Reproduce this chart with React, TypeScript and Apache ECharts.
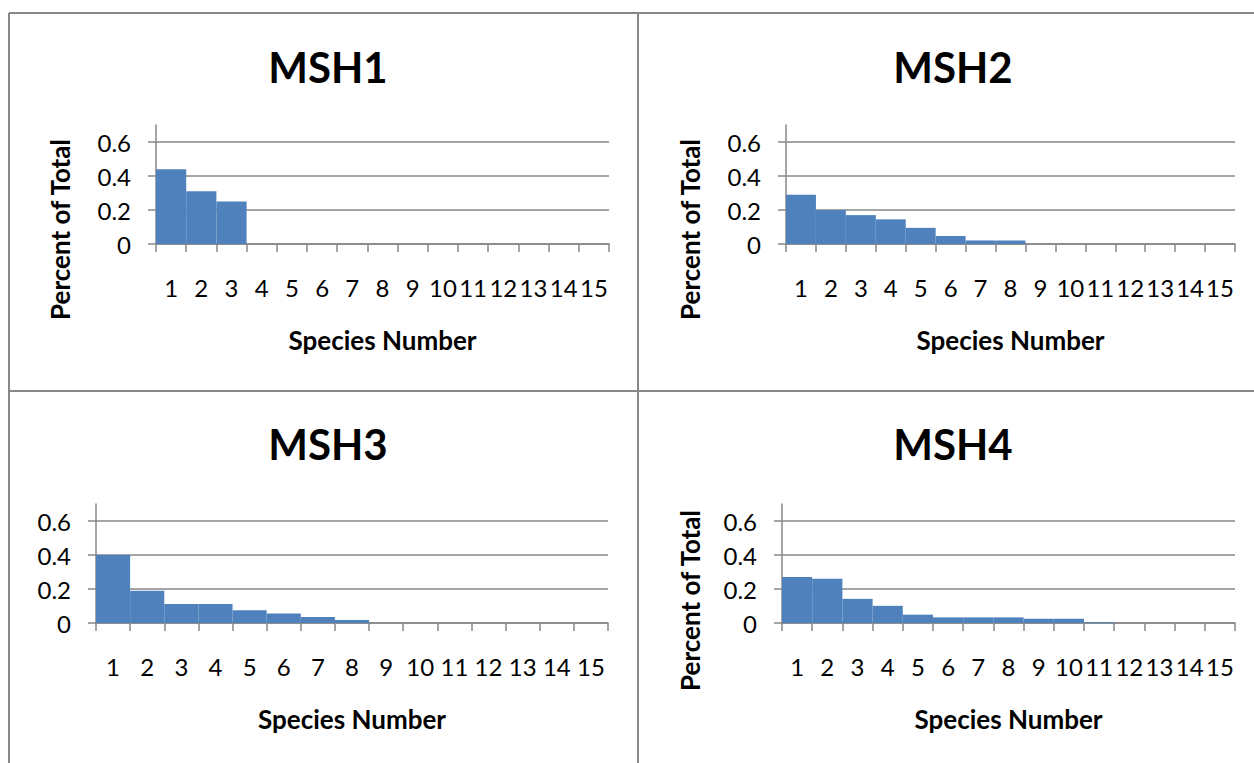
import React, { useEffect, useRef } from "react";
import * as echarts from "echarts";

const categories = ["1", "2", "3", "4", "5", "6", "7", "8", "9", "10", "11", "12", "13", "14", "15"];
const msh1 = [0.44, 0.31, 0.25, 0, 0, 0, 0, 0, 0, 0, 0, 0, 0, 0, 0];
const msh2 = [0.29, 0.2, 0.17, 0.145, 0.095, 0.047, 0.021, 0.02, 0, 0, 0, 0, 0, 0, 0];
const msh3 = [0.4, 0.19, 0.112, 0.112, 0.075, 0.056, 0.035, 0.017, 0, 0, 0, 0, 0, 0, 0];
const msh4 = [0.27, 0.26, 0.142, 0.101, 0.049, 0.033, 0.033, 0.033, 0.025, 0.025, 0.005, 0, 0, 0, 0];
const titles = ["MSH1", "MSH2", "MSH3", "MSH4"];
const yTicks = [0, 0.2, 0.4, 0.6];
const yAxisTitle = "Percent of Total";
const xAxisTitle = "Species Number";

const FONT = "Lato, 'Liberation Sans', sans-serif";
const GRAY = "#878787";
const BAR = "#4F81BD";

export default function App() {
  const ref = useRef<HTMLDivElement>(null);
  useEffect(() => {
    if (!ref.current) return;
    const chart = echarts.init(ref.current, null, { renderer: "svg" });
    const datasets = [msh1, msh2, msh3, msh4];
    const grids = [
      { left: 156, top: 125, width: 453, height: 119 },
      { left: 786, top: 125, width: 449, height: 119 },
      { left: 96, top: 504, width: 512, height: 119 },
      { left: 782, top: 504, width: 453, height: 119 },
    ];
    const showYName = [true, true, false, true];
    const yNameShift = [90, 90, 0, 74];
    const titlePos = [
      { x: 323, y: 62 },
      { x: 948, y: 62 },
      { x: 323, y: 439 },
      { x: 948, y: 439 },
    ];
    const option: any = {
      animation: false,
      backgroundColor: "#ffffff",
      title: titles.map((t, i) => ({
        text: t,
        left: titlePos[i].x,
        top: titlePos[i].y,
        textAlign: "center",
        textVerticalAlign: "middle",
        textStyle: { fontFamily: FONT, fontWeight: "bold", fontSize: 42, color: "#000" },
      })),
      grid: grids.map((g) => ({ ...g, containLabel: false })),
      xAxis: grids.map((_, i) => ({
        type: "category",
        gridIndex: i,
        data: categories,
        boundaryGap: true,
        name: xAxisTitle,
        nameLocation: "middle",
        nameGap: 83,
        nameTextStyle: { fontFamily: FONT, fontWeight: "bold", fontSize: 26, color: "#000" },
        axisLine: { lineStyle: { color: GRAY, width: 1.5 } },
        axisTick: { show: true, interval: 0, length: 8, lineStyle: { color: GRAY, width: 1.5 } },
        axisLabel: { interval: 0, margin: 31, fontFamily: FONT, fontSize: 24, color: "#000" },
        splitLine: { show: false },
      })),
      yAxis: grids.map((_, i) => ({
        type: "value",
        gridIndex: i,
        min: 0,
        max: 0.7,
        interval: 0.2,
        name: showYName[i] ? yAxisTitle : "",
        nameLocation: "middle",
        nameRotate: 90,
        nameGap: i === 3 ? 79 : 83,
        nameTextStyle: {
          fontFamily: FONT,
          fontWeight: "bold",
          fontSize: 26,
          color: "#000",
          padding: [0, yNameShift[i], 0, 0],
        },
        axisLine: { show: true, lineStyle: { color: GRAY, width: 1.5 } },
        axisTick: { show: true, length: 8, customValues: yTicks, lineStyle: { color: GRAY, width: 1.5 } },
        axisLabel: {
          customValues: yTicks,
          margin: 25,
          fontFamily: FONT,
          fontSize: 24,
          color: "#000",
          formatter: (v: number) => String(Math.round(v * 10) / 10),
        },
        splitLine: { show: true, lineStyle: { color: GRAY, width: 1.5 } },
      })),
      series: datasets.map((d, i) => ({
        type: "bar",
        xAxisIndex: i,
        yAxisIndex: i,
        data: d,
        barCategoryGap: "0%",
        itemStyle: { color: BAR },
        silent: true,
      })),
      graphic: [
        { type: "line", shape: { x1: 9, y1: 13, x2: 1254, y2: 13 }, style: { stroke: GRAY, lineWidth: 2 } },
        { type: "line", shape: { x1: 9, y1: 13, x2: 9, y2: 763 }, style: { stroke: GRAY, lineWidth: 2 } },
        { type: "line", shape: { x1: 638, y1: 13, x2: 638, y2: 763 }, style: { stroke: GRAY, lineWidth: 2 } },
        { type: "line", shape: { x1: 9, y1: 391, x2: 1254, y2: 391 }, style: { stroke: GRAY, lineWidth: 2 } },
      ],
    };
    chart.setOption(option);
    return () => chart.dispose();
  }, []);
  return (
    <div
      ref={ref}
      style={{ position: "fixed", left: 0, top: 0, width: 1254, height: 763, background: "#fff" }}
    />
  );
}
